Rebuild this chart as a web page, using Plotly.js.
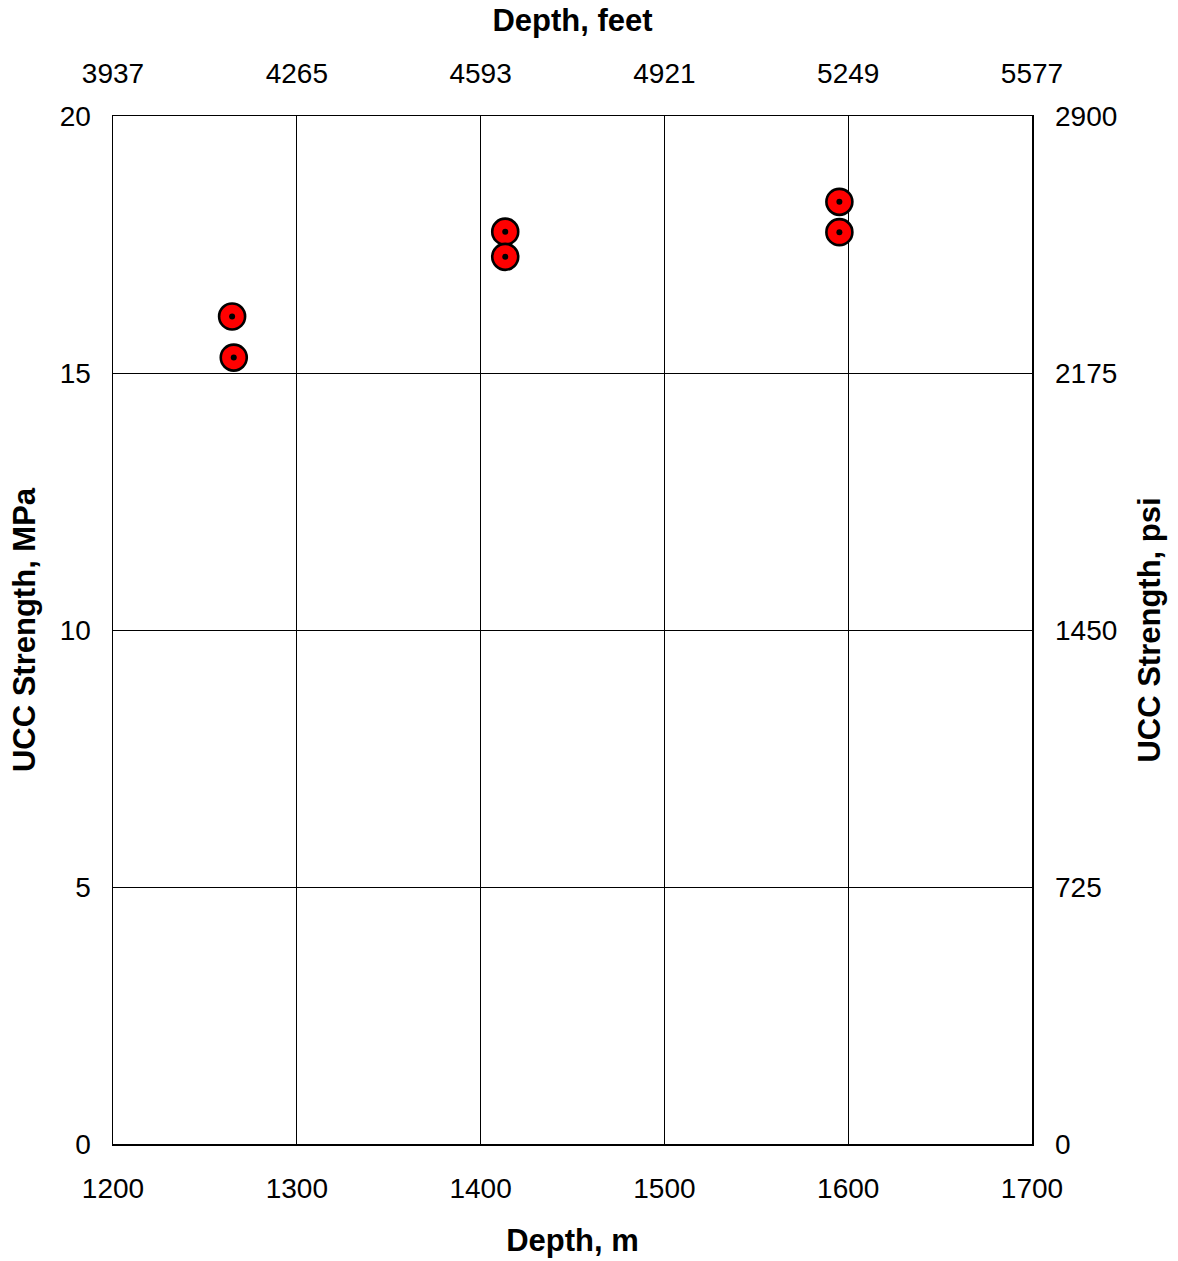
<!DOCTYPE html>
<html>
<head>
<meta charset="utf-8">
<script src="https://cdn.plot.ly/plotly-3.0.1.min.js"></script>
<style>html,body{margin:0;padding:0;background:#fff;}#chart{width:1178px;height:1261px;}</style>
</head>
<body>
<div id="chart"></div>
<script>
// Data
const depthM = [1264.8, 1265.7, 1413.4, 1413.4, 1595.2, 1595.2];
const uccMPa = [16.10, 15.30, 17.75, 17.26, 18.33, 17.74];

const depthTicksM = [1200, 1300, 1400, 1500, 1600, 1700];
const depthTickFeet = ['3937', '4265', '4593', '4921', '5249', '5577'];
const uccTicksMPa = [0, 5, 10, 15, 20];
const uccTickPsi = ['0', '725', '1450', '2175', '2900'];

const FONT = 'Liberation Sans, Arial, sans-serif';
const tickFont = {family: FONT, size: 28, color: '#000'};
const titleFont = {family: FONT, size: 31, color: '#000', weight: 'bold'};

const traces = [
  {
    x: depthM, y: uccMPa, type: 'scatter', mode: 'markers',
    marker: {symbol: 'circle', size: 26, color: '#ff0000', line: {color: '#000', width: 2.6}},
    hoverinfo: 'x+y', showlegend: false
  },
  {
    x: depthM, y: uccMPa, type: 'scatter', mode: 'markers',
    marker: {symbol: 'circle', size: 6, color: '#000'},
    hoverinfo: 'skip', showlegend: false
  },
  {
    x: depthM, y: uccMPa, xaxis: 'x2', yaxis: 'y2', type: 'scatter', mode: 'markers',
    marker: {size: 1, opacity: 0}, hoverinfo: 'skip', showlegend: false
  }
];

const layout = {
  width: 1178, height: 1261,
  margin: {l: 113, r: 146, t: 116, b: 117},
  paper_bgcolor: '#fff', plot_bgcolor: '#fff',
  showlegend: false,
  xaxis: {
    range: [1200, 1700], tickvals: depthTicksM, ticktext: depthTicksM.map(String),
    showgrid: true, gridcolor: '#000', gridwidth: 1,
    showline: true, linecolor: '#000', linewidth: 1.5, mirror: true,
    ticks: '', ticklabelstandoff: 19, tickfont: tickFont, zeroline: false,
    title: {text: 'Depth, m', font: titleFont, standoff: 26}
  },
  xaxis2: {
    overlaying: 'x', side: 'top', range: [1200, 1700],
    tickvals: depthTicksM, ticktext: depthTickFeet,
    showgrid: false, showline: false, zeroline: false,
    ticks: '', ticklabelstandoff: 26, tickfont: tickFont,
    title: {text: 'Depth, feet', font: titleFont, standoff: 17}
  },
  yaxis: {
    range: [0, 20], tickvals: uccTicksMPa, ticktext: uccTicksMPa.map(String),
    showgrid: true, gridcolor: '#000', gridwidth: 1,
    showline: true, linecolor: '#000', linewidth: 1.5, mirror: true,
    ticks: '', ticklabelstandoff: 15, tickfont: tickFont, zeroline: false,
    title: {text: 'UCC Strength, MPa', font: titleFont, standoff: 15}
  },
  yaxis2: {
    overlaying: 'y', side: 'right', range: [0, 20],
    tickvals: uccTicksMPa, ticktext: uccTickPsi,
    showgrid: false, showline: false, zeroline: false,
    ticks: '', ticklabelstandoff: 22, tickfont: tickFont,
    title: {text: 'UCC Strength, psi', font: titleFont, standoff: 21.5}
  }
};

Plotly.newPlot('chart', traces, layout, {displayModeBar: false, staticPlot: true});
</script>
</body>
</html>
